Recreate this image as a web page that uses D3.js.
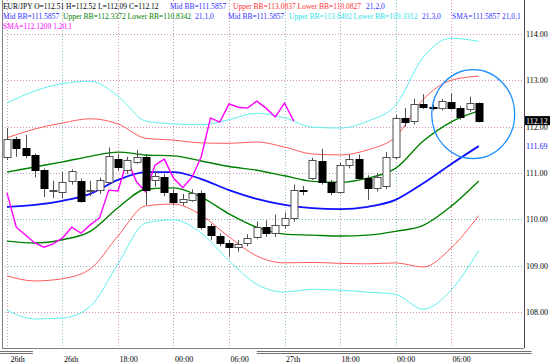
<!DOCTYPE html>
<html>
<head>
<meta charset="utf-8">
<script src="https://cdn.jsdelivr.net/npm/d3@7"></script>
<style>
body { margin: 0; background: #fff; }
svg { display: block; font-family: "Liberation Serif", "Times New Roman", serif; }
</style>
</head>
<body>
<svg width="560" height="364"></svg>
<script>
// Hourly EUR/JPY candles, index 0 = first bar on the left
var opens  = [111.35,111.73,111.54,111.39,111.06,110.61,110.59,110.83,110.83,110.61,110.63,110.81,111.30,111.06,111.24,111.35,110.85,110.91,110.57,110.37,110.42,110.57,109.86,109.64,109.49,109.40,109.49,109.62,109.83,109.70,109.88,110.03,110.63,110.89,111.26,110.81,110.59,111.17,111.30,110.89,110.68,110.72,111.35,112.19,112.12,112.49,112.42,112.40,112.53,112.40,112.38,112.51];
var highs  = [111.97,111.78,111.82,111.42,111.10,110.83,111.02,111.08,110.88,110.83,110.90,111.55,111.40,111.35,111.50,111.40,111.05,110.98,110.65,110.55,110.65,110.62,109.90,109.70,109.55,109.55,109.68,109.95,109.98,110.10,110.15,110.75,110.72,111.33,111.52,110.85,111.22,111.40,111.40,110.95,111.00,111.45,112.25,112.40,112.60,112.70,112.48,112.60,112.72,112.45,112.65,112.52];
var lows   = [111.28,111.35,111.32,110.91,110.48,110.46,110.46,110.75,110.36,110.50,110.55,110.75,111.05,110.98,111.20,110.31,110.70,110.50,110.30,110.30,110.38,109.78,109.55,109.42,109.19,109.30,109.42,109.58,109.62,109.62,109.80,109.95,110.52,110.85,110.75,110.52,110.55,111.10,110.85,110.42,110.60,110.65,111.30,112.00,112.05,112.38,112.35,112.35,112.36,112.15,112.32,112.09];
var closes = [111.73,111.54,111.39,111.06,110.68,110.63,110.81,111.04,110.40,110.63,110.85,111.37,111.13,111.28,111.35,110.63,110.94,110.59,110.37,110.44,110.57,109.83,109.66,109.49,109.40,109.47,109.60,109.83,109.70,109.88,110.03,110.63,110.61,111.28,110.81,110.59,111.17,111.30,110.89,110.68,110.91,111.35,112.19,112.10,112.49,112.42,112.40,112.55,112.40,112.21,112.51,112.12];

// Bollinger bands (21 bars), read every 3rd bar
var bandIdx = [0,3,6,9,12,15,18,21,24,27,30,33,36,39,42,45,48,51];
var midBB   = [110.27,110.31,110.40,110.55,110.85,111.02,111.02,110.87,110.63,110.44,110.31,110.24,110.22,110.27,110.42,110.78,111.19,111.58];
var upper1  = [111.02,111.13,111.24,111.36,111.45,111.39,111.37,111.26,111.14,111.06,110.94,110.82,110.80,110.89,111.10,111.69,112.10,112.34];
var lower1  = [109.53,109.49,109.56,109.74,110.25,110.65,110.68,110.48,110.12,109.83,109.68,109.66,109.64,109.66,109.74,109.87,110.28,110.83];
var upper2  = [111.76,111.95,112.08,112.17,112.06,111.75,111.71,111.65,111.64,111.67,111.56,111.41,111.39,111.50,111.78,112.59,113.00,113.09];
var lower2  = [108.78,108.67,108.72,108.93,109.64,110.29,110.33,110.09,109.62,109.21,109.06,109.07,109.05,109.04,109.06,108.97,109.38,110.08];
var upper3  = [112.51,112.77,112.93,112.98,112.66,112.12,112.06,112.04,112.15,112.29,112.19,111.99,111.97,112.12,112.46,113.50,113.91,113.84];
var lower3  = [108.04,107.85,107.87,108.12,109.04,109.92,109.99,109.70,109.11,108.60,108.43,108.49,108.47,108.43,108.38,108.06,108.47,109.33];

// SMA(1) shifted 20 bars back, one value per bar from index 0
var smaShift = [110.57,109.83,109.66,109.49,109.40,109.47,109.60,109.83,109.70,109.88,110.03,110.63,110.61,111.28,110.81,110.59,111.17,111.30,110.89,110.68,110.91,111.35,112.19,112.10,112.49,112.42,112.40,112.55,112.40,112.21,112.51,112.12];

// Axes
var priceTicks = [108,109,110,111,112,113,114];
var timeIdx    = [0,6,12,18,24,30,36,42,48];
var timeLabels = ["26th","26th","18:00","00:00","06:00","27th","18:00","00:00","06:00"];

var lastClose = 112.12;
var midLabel = 111.69;
var midLabelAt = 111.5857;

// Set SVG and dimensions
var svg = d3.select("svg"),
    width = +svg.attr("width"),
    height = +svg.attr("height");

var plotLeft = 2, plotRight = 524, plotTop = 0, plotBottom = 348;

var x = d3.scaleLinear().domain([0, 54]).range([7, 7 + 54 * 9.25]);
var y = d3.scaleLinear().domain([108, 114]).range([312, 34]);

svg.append("defs").append("clipPath").attr("id", "plot")
  .append("rect").attr("x", plotLeft).attr("y", plotTop)
  .attr("width", plotRight - plotLeft).attr("height", plotBottom - plotTop);

// Grid
var hGridColors = ["#d890b8","#80b8b8","#80b8b8","#c098c8","#d890b8","#d890b8","#d890b8"];
svg.append("g").selectAll("line")
  .data(priceTicks)
  .enter().append("line")
    .attr("x1", plotLeft).attr("x2", plotRight)
    .attr("y1", function(d) { return Math.round(y(d)) + 0.5; })
    .attr("y2", function(d) { return Math.round(y(d)) + 0.5; })
    .attr("stroke", function(d, i) { return hGridColors[i]; })
    .attr("stroke-dasharray", "1,2");

var vGridColors = ["#c0a0c0","#80c0c8","#d890b8","#c090c0","#d890b8","#80c0c8","#b0a0b0","#80c0c8","#d890b8"];
svg.append("g").selectAll("line")
  .data(timeIdx)
  .enter().append("line")
    .attr("x1", function(d) { return Math.round(x(d)) + 0.5; })
    .attr("x2", function(d) { return Math.round(x(d)) + 0.5; })
    .attr("y1", plotTop).attr("y2", plotBottom)
    .attr("stroke", function(d, i) { return vGridColors[i]; })
    .attr("stroke-dasharray", "1,2");

var plot = svg.append("g").attr("clip-path", "url(#plot)");

// Bands
function bandLine(values) {
  return d3.line()
    .x(function(d, i) { return x(bandIdx[i]); })
    .y(function(d) { return y(d); })
    .curve(d3.curveMonotoneX)(values);
}

var bands = [
  { values: upper3, color: "#60f0f0", w: 1 },
  { values: lower3, color: "#60f0f0", w: 1 },
  { values: upper2, color: "#ff5a5a", w: 1 },
  { values: lower2, color: "#ff5a5a", w: 1 },
  { values: upper1, color: "#008000", w: 1.4 },
  { values: lower1, color: "#008000", w: 1.4 },
  { values: midBB,  color: "#1010ff", w: 1.8 }
];

plot.append("g").selectAll("path")
  .data(bands)
  .enter().append("path")
    .attr("d", function(d) { return bandLine(d.values); })
    .attr("fill", "none")
    .attr("stroke", function(d) { return d.color; })
    .attr("stroke-width", function(d) { return d.w; });

// Shifted close line
plot.append("path")
  .datum(smaShift)
  .attr("d", d3.line()
    .x(function(d, i) { return x(i); })
    .y(function(d) { return y(d); }))
  .attr("fill", "none")
  .attr("stroke", "#ff00ff")
  .attr("stroke-width", 1.4);

// Candles
var candles = d3.range(closes.length).map(function(i) {
  return { i: i, o: opens[i], h: highs[i], l: lows[i], c: closes[i] };
});

var cg = plot.append("g").selectAll("g")
  .data(candles)
  .enter().append("g");

cg.append("line")
  .attr("x1", function(d) { return Math.round(x(d.i)) + 0.5; })
  .attr("x2", function(d) { return Math.round(x(d.i)) + 0.5; })
  .attr("y1", function(d) { return y(d.h); })
  .attr("y2", function(d) { return y(d.l); })
  .attr("stroke", "#505050");

cg.append("rect")
  .attr("x", function(d) { return Math.round(x(d.i)) - 3; })
  .attr("width", 7)
  .attr("y", function(d) { return Math.round(y(Math.max(d.o, d.c))) + 0.5; })
  .attr("height", function(d) { return Math.max(1, Math.round(Math.abs(y(d.o) - y(d.c)))); })
  .attr("fill", function(d) { return d.c < d.o ? "#000" : "#fff"; })
  .attr("stroke", function(d) { return d.c < d.o ? "#000" : "#505050"; });

// Highlight circle round the last bars
svg.append("ellipse")
  .attr("cx", x(50.4)).attr("cy", y(112.27))
  .attr("rx", 41.5).attr("ry", 44.5)
  .attr("fill", "none")
  .attr("stroke", "#1e8fff")
  .attr("stroke-width", 1.3);

// Frame
svg.append("line").attr("x1", plotLeft + 0.5).attr("x2", plotLeft + 0.5).attr("y1", plotTop).attr("y2", plotBottom)
  .attr("stroke", "#808080");
svg.append("line").attr("x1", plotLeft).attr("x2", plotRight).attr("y1", plotBottom + 0.5).attr("y2", plotBottom + 0.5)
  .attr("stroke", "#808080");
svg.append("line").attr("x1", plotRight + 0.5).attr("x2", plotRight + 0.5).attr("y1", plotTop).attr("y2", plotBottom)
  .attr("stroke", "#504858");

// Bottom separators (double rules)
var seps = [[-0.8, 2.8], [27, 56.7]];
seps.forEach(function(s) {
  [351.5, 353.5].forEach(function(yy) {
    svg.append("line")
      .attr("x1", x(s[0])).attr("x2", x(s[1]))
      .attr("y1", yy).attr("y2", yy)
      .attr("stroke", "#707070");
  });
});

// Time axis
var xAxis = svg.append("g")
  .attr("transform", "translate(0," + 355 + ")")
  .call(d3.axisBottom(x)
    .tickValues(timeIdx)
    .tickSize(0)
    .tickFormat(function(d, i) { return timeLabels[i]; }));
xAxis.select(".domain").remove();
xAxis.selectAll("text")
  .attr("text-anchor", "start")
  .attr("dx", function(d, i) { return i === 0 ? 3 : 1; })
  .attr("dy", "0.55em")
  .attr("font-family", "Liberation Serif, serif")
  .attr("font-size", 8)
  .attr("fill", "#000");

// Price axis
var yAxis = svg.append("g")
  .attr("transform", "translate(" + (plotRight + 2) + ",0)")
  .call(d3.axisRight(y)
    .tickValues(priceTicks)
    .tickSize(0)
    .tickPadding(0)
    .tickFormat(function(d) { return d.toFixed(2); }));
yAxis.select(".domain").remove();
yAxis.selectAll("text")
  .attr("font-family", "Liberation Serif, serif")
  .attr("font-size", 8)
  .attr("fill", "#000");

// Last price tag
svg.append("rect")
  .attr("x", plotRight + 1).attr("y", y(lastClose) - 5)
  .attr("width", 25).attr("height", 9)
  .attr("fill", "#000");
svg.append("text")
  .attr("x", plotRight + 2).attr("y", y(lastClose) + 3)
  .attr("font-size", 8).attr("fill", "#fff")
  .text(lastClose.toFixed(2));

svg.append("text")
  .attr("x", plotRight + 2).attr("y", y(midLabelAt) + 3)
  .attr("font-size", 8).attr("fill", "#2020ff")
  .text(midLabel.toFixed(2));

// Header legend
var header = [
  { row: 0, x: 3,   color: "#000",    text: "EUR/JPY O=112.51 H=112.52 L=112.09 C=112.12" },
  { row: 0, x: 170, color: "#3030ff", text: "Mid BB=111.5857" },
  { row: 0, x: 233, color: "#ff3030", text: "Upper BB=113.0837 Lower BB=110.0827" },
  { row: 0, x: 366, color: "#3030ff", text: "21,2,0" },
  { row: 1, x: 3,   color: "#3030ff", text: "Mid BB=111.5857" },
  { row: 1, x: 63,  color: "#008000", text: "Upper BB=112.3372 Lower BB=110.8342" },
  { row: 1, x: 195, color: "#3030ff", text: "21,1,0" },
  { row: 1, x: 228, color: "#3030ff", text: "Mid BB=111.5857" },
  { row: 1, x: 289, color: "#30e0e8", text: "Upper BB=113.8402 Lower BB=109.3312" },
  { row: 1, x: 422, color: "#3030ff", text: "21,3,0" },
  { row: 1, x: 452, color: "#3030ff", text: "SMA=111.5857 21,0,1" },
  { row: 2, x: 3,   color: "#ff00ff", text: "SMA=112.1200 1,20,1" }
];

svg.append("g").selectAll("text")
  .data(header)
  .enter().append("text")
    .attr("x", function(d) { return d.x; })
    .attr("y", function(d) { return 8.5 + d.row * 10; })
    .attr("font-size", 7.5)
    .attr("fill", function(d) { return d.color; })
    .text(function(d) { return d.text; });
</script>
</body>
</html>
